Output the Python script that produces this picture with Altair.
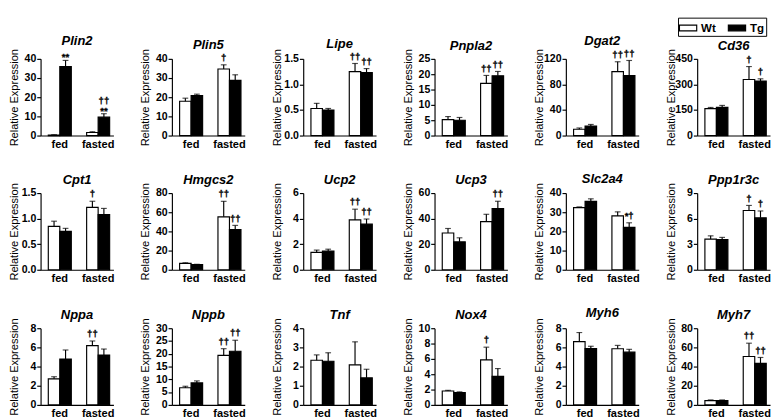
import altair as alt
import pandas as pd

FONT = "Liberation Sans"

genes = ["Plin2", "Plin5", "Lipe", "Pnpla2", "Dgat2", "Cd36",
         "Cpt1", "Hmgcs2", "Ucp2", "Ucp3", "Slc2a4", "Ppp1r3c",
         "Nppa", "Nppb", "Tnf", "Nox4", "Myh6", "Myh7"]
conditions = ["fed", "fasted"]
genotypes = ["Wt", "Tg"]

# mean values (Relative Expression)
wt_fed = [0.3, 17.9, 0.53, 5.2, 9.9, 158, 0.85, 6.6, 1.36, 28.8, 32.4, 3.6, 2.72, 6.7, 2.33, 1.82, 6.6, 4.5]
tg_fed = [36.0, 20.8, 0.50, 5.0, 14.9, 165, 0.75, 5.3, 1.46, 21.8, 35.7, 3.53, 4.79, 8.6, 2.28, 1.62, 5.89, 4.5]
wt_fasted = [1.6, 34.7, 1.25, 17.0, 100.0, 329, 1.22, 55.2, 3.9, 37.7, 28.1, 6.95, 6.18, 19.4, 2.09, 5.87, 5.86, 50.5]
tg_fasted = [9.6, 28.8, 1.23, 19.5, 93.7, 320, 1.08, 42.0, 3.57, 47.9, 22.1, 6.1, 5.21, 21.0, 1.41, 3.72, 5.5, 43.4]

# error (SEM, upper half only)
wt_fed_err = [0.15, 1.6, 0.10, 1.0, 2.0, 7, 0.10, 0.7, 0.18, 3.5, 0.4, 0.38, 0.22, 0.6, 0.28, 0.08, 0.95, 0.7]
tg_fed_err = [3.2, 0.8, 0.03, 0.9, 2.5, 12, 0.06, 0.4, 0.15, 3.2, 1.3, 0.27, 0.94, 0.8, 0.44, 0.08, 0.23, 0.7]
wt_fasted_err = [0.4, 2.2, 0.16, 2.6, 15.5, 76, 0.12, 16.2, 0.84, 5.7, 2.1, 0.6, 0.49, 2.6, 1.2, 1.66, 0.35, 13.9]
tg_fasted_err = [1.8, 2.9, 0.08, 1.4, 23.8, 13, 0.12, 4.3, 0.40, 5.7, 2.4, 0.8, 0.62, 4.3, 0.45, 1.02, 0.3, 6.1]

# significance marks per bar: [Wt fed, Tg fed, Wt fasted, Tg fasted]
stars = [["", "**", "", "**"]] + [["", "", "", ""]] * 17
daggers = [
    ["", "", "", "††"], ["", "", "†", ""], ["", "", "††", "††"], ["", "", "††", "††"],
    ["", "", "††", "††"], ["", "", "†", "†"], ["", "", "†", ""], ["", "", "††", "††"],
    ["", "", "††", "††"], ["", "", "", "††"], ["", "", "", "*†"], ["", "", "†", "†"],
    ["", "", "††", ""], ["", "", "††", "††"], ["", "", "", ""], ["", "", "†", ""],
    ["", "", "", ""], ["", "", "††", "††"],
]

y_ticks = [
    [0, 10, 20, 30, 40], [0, 10, 20, 30, 40], [0.0, 0.5, 1.0, 1.5], [0, 5, 10, 15, 20, 25],
    [0, 40, 80, 120], [0, 150, 300, 450], [0.0, 0.5, 1.0, 1.5], [0, 20, 40, 60, 80],
    [0, 2, 4, 6], [0, 20, 40, 60], [0, 10, 20, 30, 40], [0, 3, 6, 9],
    [0, 2, 4, 6, 8], [0, 5, 10, 15, 20, 25, 30], [0, 1, 2, 3, 4], [0, 2, 4, 6, 8, 10],
    [0, 2, 4, 6, 8], [0, 20, 40, 60, 80],
]

legend = alt.Legend(
    title=None, orient="none", legendX=665, legendY=-43, direction="horizontal",
    symbolType="M-1.2,-0.4H1.2V0.4H-1.2Z", symbolSize=225,
    symbolStrokeColor="black", symbolStrokeWidth=1.2,
    labelFont=FONT, labelFontSize=12, labelFontWeight="bold", labelColor="black",
    labelOffset=5, columnPadding=10, padding=2,
    strokeColor="black", fillColor="white",
)


def make_panel(i):
    means = [wt_fed[i], tg_fed[i], wt_fasted[i], tg_fasted[i]]
    errs = [wt_fed_err[i], tg_fed_err[i], wt_fasted_err[i], tg_fasted_err[i]]
    keys = [("fed", "Wt"), ("fed", "Tg"), ("fasted", "Wt"), ("fasted", "Tg")]
    rows = []
    for k, (c, gt) in enumerate(keys):
        st = stars[i][k]
        dg = daggers[i][k]
        rows.append(dict(cond=c, geno=gt, mean=means[k], hi=means[k] + errs[k],
                         star=st, dag_lo=("" if st else dg), dag_hi=(dg if st else "")))
    df = pd.DataFrame(rows)
    ticks = y_ticks[i]
    fmt = ".1f" if any(float(t) != int(t) for t in ticks) else "d"
    yscale = alt.Scale(domain=[0, ticks[-1]], nice=False, zero=True)
    yaxis = alt.Axis(
        values=ticks, format=fmt, title="Relative Expression",
        titleFont=FONT, titleFontSize=11.5, titleFontWeight="normal", titleColor="black",
        titlePadding=1, labelFont=FONT, labelFontSize=11, labelFontWeight="bold",
        labelColor="black", labelPadding=1, tickSize=4, minExtent=21, maxExtent=21,
        grid=False, domainColor="black", tickColor="black", domainWidth=1.2, tickWidth=1.2,
    )
    xenc = alt.X(
        "cond:N", sort=conditions,
        scale=alt.Scale(paddingInner=0.4, paddingOuter=0.15, align=0.67),
        axis=alt.Axis(title=None, ticks=False, labelAngle=0, labelPadding=3,
                      labelFont=FONT, labelFontSize=11.5, labelFontWeight="bold",
                      labelColor="black", domainColor="black", domainWidth=1.2, grid=False),
    )
    xoff = alt.XOffset("geno:N", sort=genotypes, scale=alt.Scale(paddingInner=0, paddingOuter=0))

    def Y(f):
        return alt.Y(f + ":Q", scale=yscale, axis=yaxis)

    base = alt.Chart(df).encode(x=xenc, xOffset=xoff)
    bars = base.mark_bar(stroke="black", strokeWidth=1.2).encode(
        y=Y("mean"),
        fill=alt.Fill("geno:N", sort=genotypes,
                      scale=alt.Scale(domain=genotypes, range=["white", "black"]),
                      legend=legend),
    )
    rule = base.mark_rule(color="black", strokeWidth=1.2).encode(y=Y("mean"), y2="hi:Q")
    cap = base.mark_tick(color="black", orient="horizontal", size=6, thickness=1.2).encode(y=Y("hi"))
    tstyle = dict(font=FONT, fontSize=10, fontWeight="bold", fill="black", stroke="black",
                  strokeWidth=0.3, baseline="alphabetic")
    star_t = base.mark_text(dy=0, **tstyle).encode(y=Y("hi"), text="star:N")
    dlo_t = base.mark_text(dy=-4, **tstyle).encode(y=Y("hi"), text="dag_lo:N")
    dhi_t = base.mark_text(dy=-10, **tstyle).encode(y=Y("hi"), text="dag_hi:N")
    return alt.layer(bars, rule, cap, star_t, dlo_t, dhi_t).properties(
        width=76, height=80,
        title=alt.TitleParams(genes[i], font=FONT, fontSize=13.5, fontStyle="italic",
                              fontWeight="bold", color="black", anchor="middle",
                              frame="group", offset=-4),
    )


panels = [make_panel(i) for i in range(len(genes))]
chart = alt.concat(*panels, columns=6, spacing={"row": 22, "column": 26}).properties(
    padding=0
).configure_view(stroke="transparent")

chart.save("out.html", embed_options={"renderer": "svg", "actions": False})
